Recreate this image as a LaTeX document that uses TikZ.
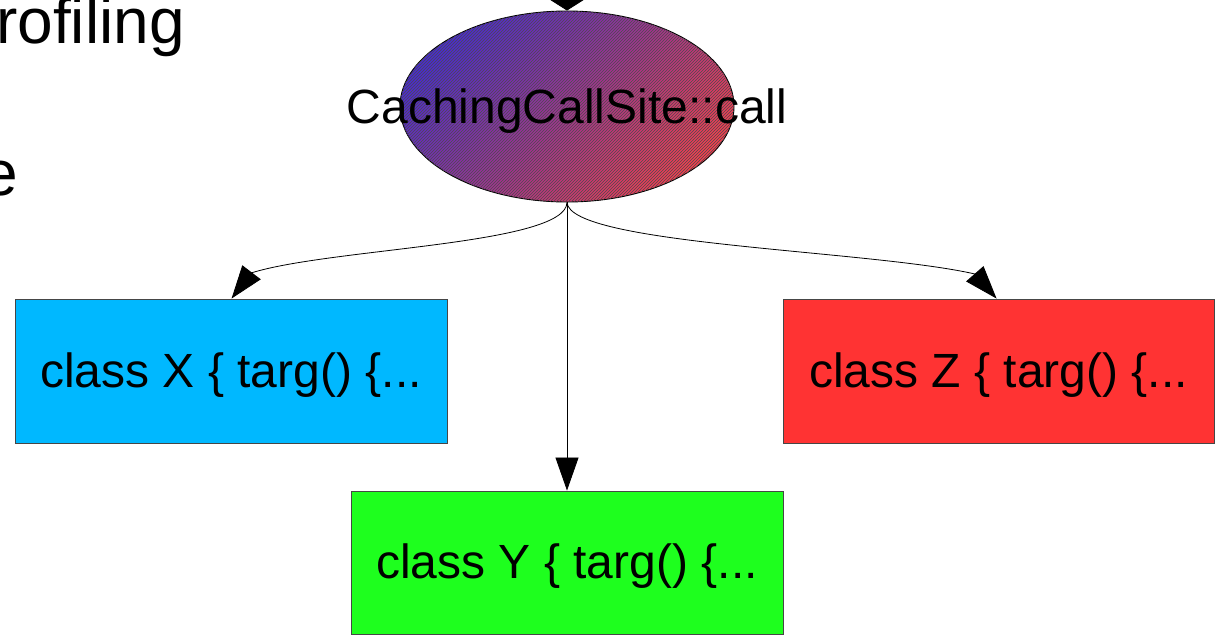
\documentclass[tikz,border=0pt]{standalone}
\usepackage{fontspec}
\setmainfont{Liberation Sans}
\usetikzlibrary{arrows.meta,shapes.geometric,patterns}

\definecolor{xblue}{RGB}{0,184,255}
\definecolor{zred}{RGB}{255,51,51}
\definecolor{ygreen}{RGB}{30,255,30}
\definecolor{ellblue}{RGB}{72,42,210}
\definecolor{ellred}{RGB}{245,62,80}
\definecolor{edgegray}{RGB}{70,70,70}

\tikzset{
  classbox/.style={rectangle, draw=edgegray, line width=0.9pt, inner sep=0pt,
    minimum width=432pt, minimum height=144pt,
    text height=36pt, text depth=4pt, font=\fontsize{48}{58}\selectfont},
  callsite/.style={ellipse, draw=black, line width=0.9pt, inner sep=0pt,
    minimum width=334pt, minimum height=191pt,
    shading=axis, top color=ellblue, bottom color=ellred, shading angle=45,
    postaction={pattern=north east lines, pattern color=black!70, fill opacity=0.3},
    text height=36pt, text depth=3pt, font=\fontsize{48}{58}\selectfont},
  link/.style={draw=black, line width=0.8pt},
  head/.style={-{Triangle[length=33pt,width=23pt]}},
  slide/.style={anchor=base west, inner sep=0pt, font=\fontsize{64}{76}\selectfont}
}

\begin{document}
\begin{tikzpicture}[x=1pt, y=-1pt]
  \useasboundingbox (0,0) rectangle (1215,635);
  \clip (0,0) rectangle (1215,635);
  \fill[white] (0,0) rectangle (1215,635);

  % slide text running off the left edge
  \node[slide] (t1) at (-4,43) {rofiling};
  \node[slide] (t2) at (-18,195) {e};

  % dispatch site and its three receivers
  \node[callsite] (cs) at (567,106.5) {\makebox[0pt]{CachingCallSite::call}};
  \node[classbox, fill=xblue] (X) at (231,371) {class X \{ targ() \{...};
  \node[classbox, fill=zred, minimum width=431pt] (Z) at (998.5,371) {class Z \{ targ() \{...};
  \node[classbox, fill=ygreen, minimum height=143pt] (Y) at (567,562.5) {class Y \{ targ() \{...};

  % incoming call from above
  \coordinate (caller) at (567,-40);
  \draw[link, -{Triangle[length=14pt,width=44pt]}] (caller) -- (cs.north);

  % dispatch edges
  \draw[link, head] (cs.south) .. controls (566,245) and (330,248) .. (251,273)
        -- ([xshift=217pt]X.north west);
  \draw[link, head] (cs.south) -- (Y.north);
  \draw[link, head] (cs.south) .. controls (570,245) and (870,250) .. (975,274)
        -- ([xshift=214pt]Z.north west);
\end{tikzpicture}
\end{document}
